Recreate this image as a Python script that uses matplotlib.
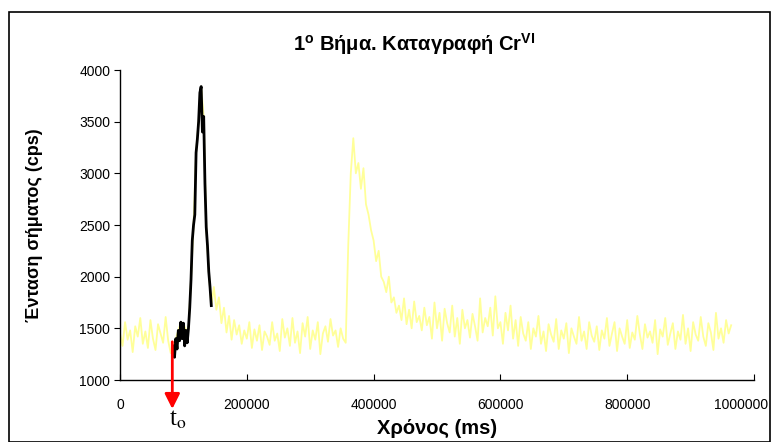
import numpy as np
import matplotlib
matplotlib.use("Agg")
import matplotlib.pyplot as plt
import matplotlib.transforms as mtransforms
from matplotlib.patches import Rectangle

plt.rcParams['font.family'] = ['Liberation Sans', 'DejaVu Sans']
plt.rcParams['mathtext.fontset'] = 'custom'
plt.rcParams['mathtext.rm'] = 'Liberation Sans'
plt.rcParams['mathtext.bf'] = 'Liberation Sans:bold'

# Full recording (cps), sampled every 4000 ms from t = 0
full_start_ms = 0
full_step_ms = 4000
full_signal = [
    1450, 1330, 1560, 1390, 1480, 1270, 1520, 1420, 1600, 1350,
    1470, 1310, 1580, 1400, 1290, 1540, 1450, 1360, 1610, 1380,
    1260, 1330, 1400, 1480, 1560, 1550, 1480, 1500, 1970, 2500,
    3200, 3500, 3840, 3550, 2480, 2050, 1720, 1900, 1680, 1800,
    1550, 1700, 1460, 1620, 1390, 1580, 1440, 1530, 1350, 1480,
    1400, 1560, 1310, 1490, 1380, 1530, 1290, 1470, 1420, 1340,
    1560, 1380, 1450, 1280, 1590, 1410, 1500, 1330, 1600, 1360,
    1470, 1260, 1550, 1420, 1610, 1300, 1480, 1390, 1560, 1250,
    1450, 1520, 1370, 1590, 1430, 1480, 1320, 1500, 1400, 1360,
    2300, 3000, 3340, 3000, 3100, 2850, 3050, 2700, 2600, 2450,
    2350, 2150, 2250, 2000, 1950, 1850, 2000, 1750, 1800, 1650,
    1720, 1580, 1790, 1540, 1680, 1500, 1760, 1560, 1620, 1480,
    1700, 1530, 1610, 1400, 1750, 1500, 1650, 1380, 1690, 1550,
    1460, 1720, 1420, 1600, 1350, 1680, 1500, 1580, 1410, 1640,
    1520, 1380, 1790, 1460, 1600, 1520, 1700, 1430, 1810, 1500,
    1560, 1350, 1650, 1480, 1720, 1400, 1580, 1330, 1610, 1450,
    1380, 1560, 1300, 1500, 1420, 1620, 1350, 1470, 1280, 1540,
    1440, 1370, 1590, 1300, 1480, 1400, 1550, 1260, 1500, 1420,
    1350, 1610, 1380, 1470, 1300, 1560, 1430, 1370, 1520, 1290,
    1480, 1400, 1600, 1330, 1450, 1560, 1280, 1500, 1420, 1350,
    1580, 1310, 1460, 1390, 1620, 1440, 1300, 1540, 1410, 1470,
    1360, 1580, 1250, 1490, 1420, 1600, 1340, 1450, 1550, 1300,
    1470, 1390, 1630, 1350, 1500, 1280, 1560, 1440, 1380, 1610,
    1420, 1330, 1550, 1460, 1290, 1650, 1400, 1500, 1360, 1580,
    1450, 1530,
]

# Cr(VI) window (cps), sampled every 2000 ms from t = 84000 ms
cr_start_ms = 84000
cr_step_ms = 2000
cr_signal = [
    1330, 1220, 1400, 1300, 1480, 1380, 1560, 1400, 1550, 1330,
    1480, 1360, 1500, 1700, 1970, 2350, 2500, 2600, 3200, 3330,
    3500, 3780, 3840, 3400, 3550, 2900, 2480, 2300, 2050, 1900,
    1720,
]

# injection time t_o and where the marker starts (cps)
t0_ms = 82500
t0_level = 1370

x_ticks = [0, 200000, 400000, 600000, 800000, 1000000]
x_tick_labels = ['0', '200000', '400000', '600000', '800000', '1000000']
y_ticks = [1000, 1500, 2000, 2500, 3000, 3500, 4000]

full_t = full_start_ms + full_step_ms * np.arange(len(full_signal))
cr_t = cr_start_ms + cr_step_ms * np.arange(len(cr_signal))

fig = plt.figure(figsize=(7.71, 4.42), dpi=100)
ax = fig.add_axes([120 / 771, 62 / 442, 634 / 771, 310 / 442])

ax.plot(full_t, full_signal, color='#FFFF99', lw=1.3, zorder=2)
ax.plot(cr_t, cr_signal, color='black', lw=2.0, zorder=3)

ax.set_xlim(0, 1000000)
ax.set_ylim(1000, 4000)
ax.set_xticks(x_ticks)
ax.set_xticklabels(x_tick_labels)
ax.set_yticks(y_ticks)
ax.tick_params(axis='x', direction='in', length=4, labelsize=10, pad=13)
ax.tick_params(axis='y', direction='out', length=4, labelsize=10, pad=3)
for side in ('top', 'right'):
    ax.spines[side].set_visible(False)
for side in ('left', 'bottom'):
    ax.spines[side].set_linewidth(1.0)

# keep the last time label inside the frame
last = ax.get_xticklabels()[-1]
last.set_transform(last.get_transform() +
                   mtransforms.ScaledTranslation(-0.13, 0, fig.dpi_scale_trans))

ax.set_xlabel('Χρόνος (ms)', fontsize=14.5, fontweight='bold')
ax.xaxis.set_label_coords(0.5, -0.125)
ax.set_ylabel('Ένταση σήματος (cps)', fontsize=13, fontweight='bold')
ax.yaxis.set_label_coords(-0.122, 0.5)

fig.text(414 / 771, 1 - 44 / 442,
         r'1$^{\mathbf{o}}$ Βήμα. Καταγραφή Cr$^{\mathbf{VI}}$',
         ha='center', va='center', fontsize=14.5, fontweight='bold')

# t_o marker: red arrow crossing the time axis
ax.annotate('', xy=(t0_ms, 720), xytext=(t0_ms, t0_level),
            xycoords='data', textcoords='data', annotation_clip=False,
            arrowprops=dict(arrowstyle='-|>,head_length=0.9,head_width=0.45',
                            color='#FF0000', lw=2, shrinkA=0, shrinkB=0),
            zorder=4)
t_trans = mtransforms.blended_transform_factory(ax.transData, fig.transFigure)
ax.text(t0_ms + 9000, 1 - 420 / 442, r't$_{\mathrm{o}}$', transform=t_trans,
        ha='center', va='center', fontsize=18, family='Liberation Serif',
        math_fontfamily='stix', clip_on=False)

# figure frame
fig.patches.append(Rectangle((9 / 771, 0.5 / 442), 761 / 771, (442 - 12.5) / 442,
                             transform=fig.transFigure, fill=False,
                             edgecolor='black', lw=1.2))

fig.savefig('out.png', dpi=100)
